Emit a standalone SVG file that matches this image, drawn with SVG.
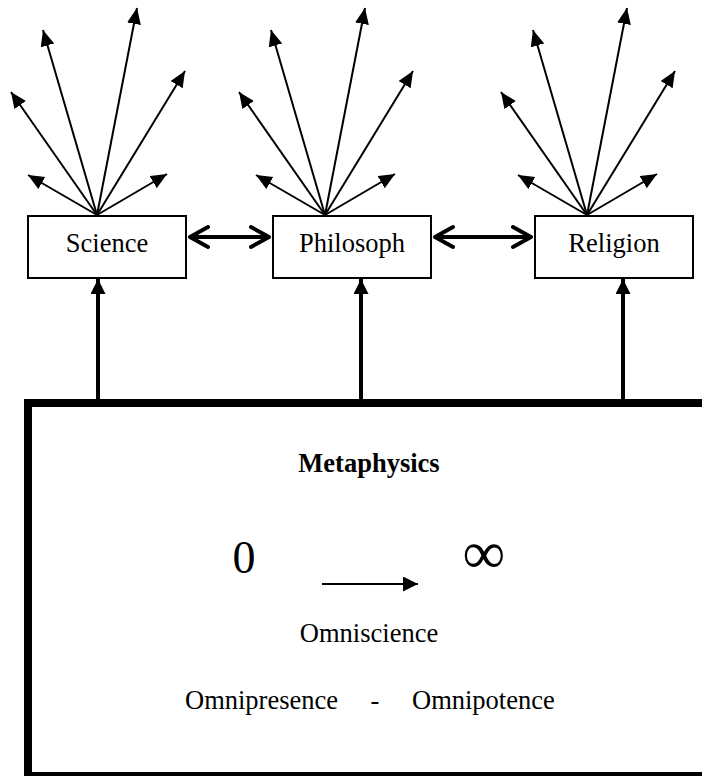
<svg xmlns="http://www.w3.org/2000/svg" width="702" height="776" viewBox="0 0 702 776">
  <style>
    text { font-family: 'Liberation Serif', serif; fill: #000; }
    .lbl { font-size: 26.5px; }
    .box { fill: #fff; stroke: #000; stroke-width: 2; }
    .ray { stroke: #000; stroke-width: 2; fill: none; marker-end: url(#tip); }
    .up { stroke: #000; stroke-width: 4; fill: none; marker-end: url(#tipBig); }
    .link { stroke: #000; stroke-width: 4; fill: none; stroke-linecap: round; stroke-linejoin: round; }
  </style>
  <defs>
    <marker id="tip" markerUnits="userSpaceOnUse" markerWidth="17" markerHeight="15" refX="16" refY="7" orient="auto">
      <path d="M0,0 L16,7 L0,14 z" fill="#000"/>
    </marker>
    <marker id="tipBig" markerUnits="userSpaceOnUse" markerWidth="16" markerHeight="16" refX="15" refY="7.5" orient="auto">
      <path d="M0,0 L15,7.5 L0,15 z" fill="#000"/>
    </marker>
    <!-- one fan of six rays rising from a single point -->
    <g id="fan">
      <line class="ray" x1="0" y1="0" x2="-69" y2="-40"/>
      <line class="ray" x1="0" y1="0" x2="-86" y2="-123"/>
      <line class="ray" x1="0" y1="0" x2="-54" y2="-185"/>
      <line class="ray" x1="0" y1="0" x2="40" y2="-207"/>
      <line class="ray" x1="0" y1="0" x2="88" y2="-144"/>
      <line class="ray" x1="0" y1="0" x2="70" y2="-41"/>
    </g>
  </defs>

  <!-- Metaphysics foundation block -->
  <g id="metaphysics">
    <rect x="28" y="403" width="700" height="373" fill="#fff" stroke="#000" stroke-width="8"/>
    <text class="lbl" x="369" y="472" text-anchor="middle" font-weight="bold">Metaphysics</text>
    <text x="244" y="573" text-anchor="middle" font-size="46">0</text>
    <text x="484" y="573" text-anchor="middle" font-size="60">∞</text>
    <line x1="322" y1="584" x2="418" y2="584" stroke="#000" stroke-width="2" marker-end="url(#tipBig)"/>
    <text class="lbl" x="369" y="642" text-anchor="middle">Omniscience</text>
    <text class="lbl" x="185" y="709">Omnipresence</text>
    <text class="lbl" x="375" y="709" text-anchor="middle">-</text>
    <text class="lbl" x="412" y="709">Omnipotence</text>
  </g>

  <g id="science">
    <rect class="box" x="28" y="216" width="158" height="62"/>
    <text class="lbl" x="107" y="252" text-anchor="middle">Science</text>
  </g>
  <g id="philosoph">
    <rect class="box" x="273" y="216" width="158" height="62"/>
    <text class="lbl" x="352" y="252" text-anchor="middle">Philosoph</text>
  </g>
  <g id="religion">
    <rect class="box" x="535" y="216" width="158" height="62"/>
    <text class="lbl" x="614" y="252" text-anchor="middle">Religion</text>
  </g>

  <g id="connectors">
    <!-- fans of rays above each discipline -->
    <use href="#fan" x="97" y="215"/>
    <use href="#fan" x="325" y="215"/>
    <use href="#fan" x="587" y="215"/>

    <!-- two-way links between disciplines -->
    <path class="link" d="M190,237 H269 M208,227 L190,237 L208,247 M251,227 L269,237 L251,247"/>
    <path class="link" d="M435,237 H531 M453,227 L435,237 L453,247 M513,227 L531,237 L513,247"/>

    <!-- metaphysics feeds each discipline -->
    <line class="up" x1="98" y1="399" x2="98" y2="279"/>
    <line class="up" x1="361" y1="399" x2="361" y2="279"/>
    <line class="up" x1="623" y1="399" x2="623" y2="279"/>
  </g>
</svg>
